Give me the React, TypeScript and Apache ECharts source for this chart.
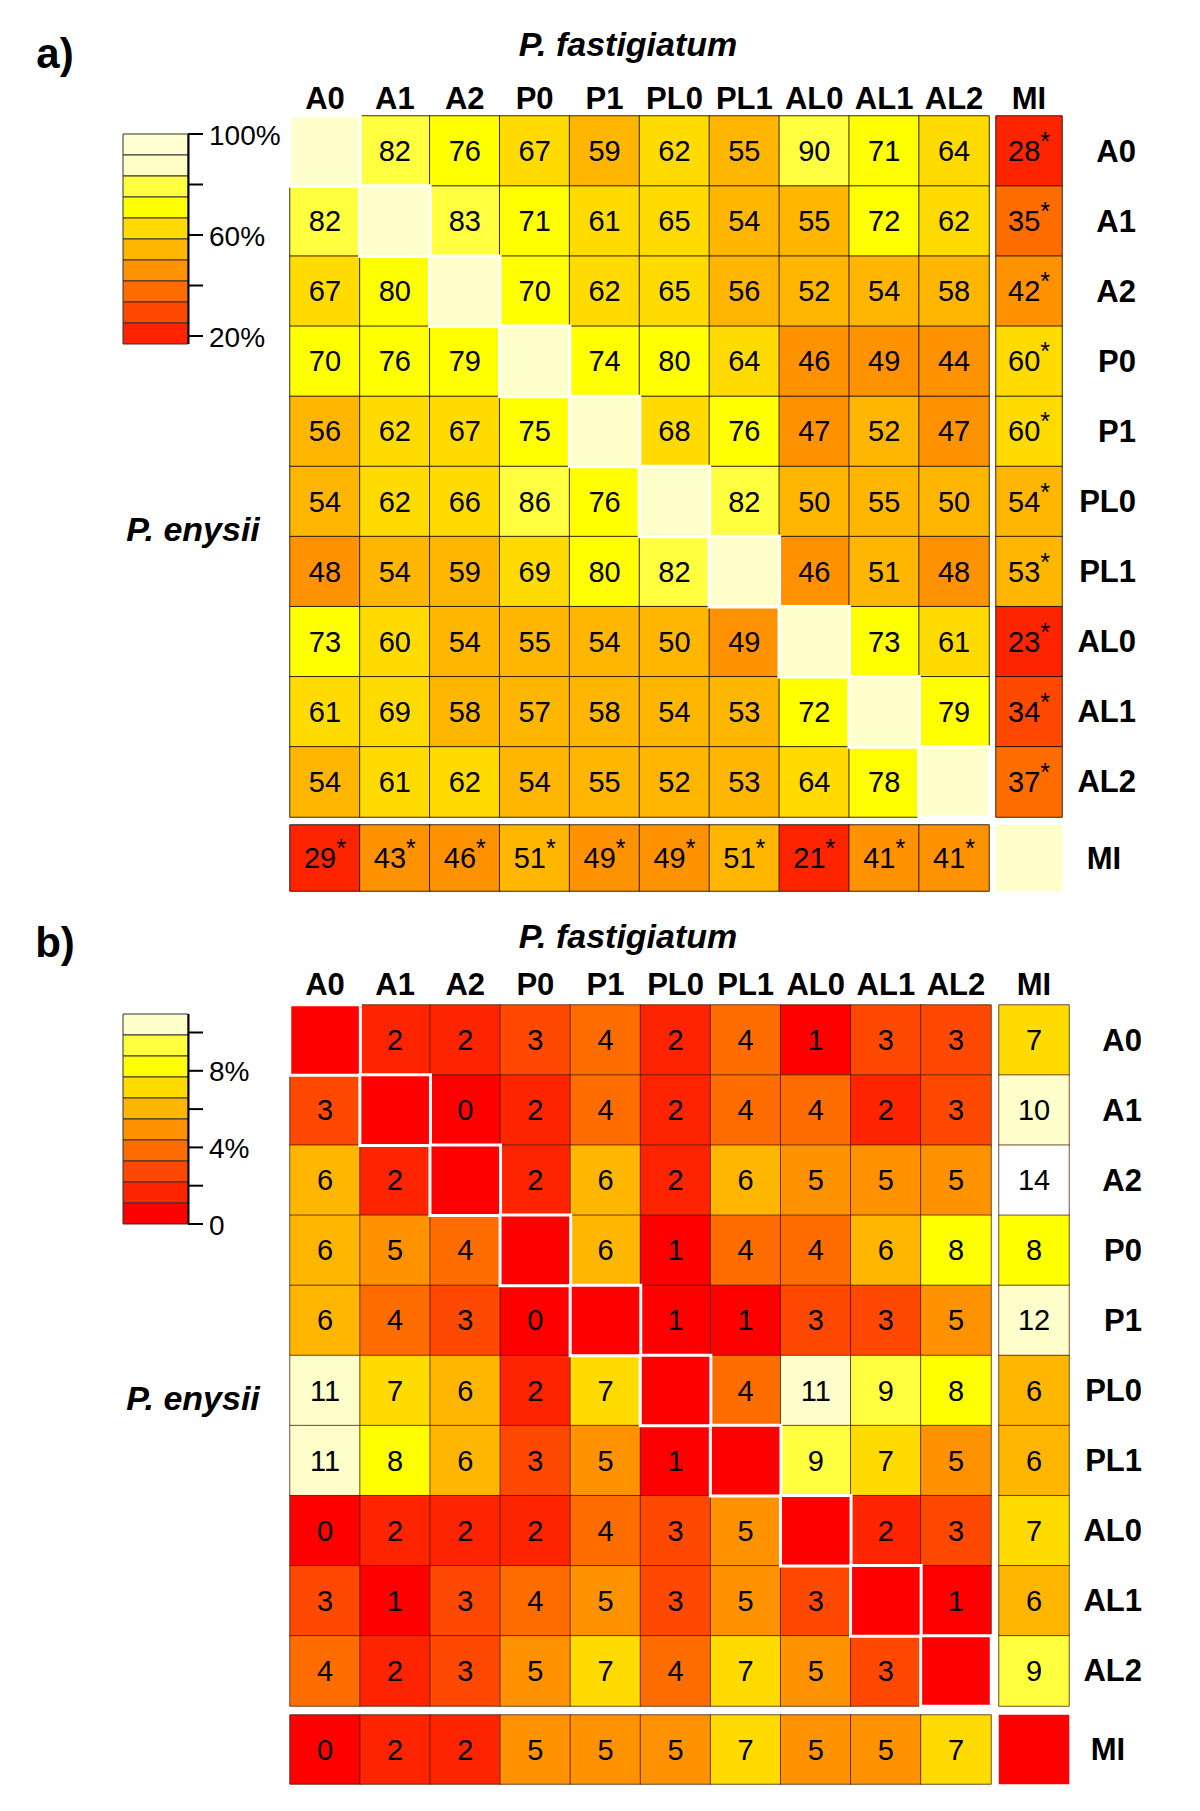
import React, { useEffect, useRef } from "react";
import * as echarts from "echarts";

// ---------- data ----------
const CATEGORIES = ["A0", "A1", "A2", "P0", "P1", "PL0", "PL1", "AL0", "AL1", "AL2"];
const MI_LABEL = ["MI"];

// panel a: similarity (%) — rows P. enysii, columns P. fastigiatum (null = diagonal)
const SIM_MATRIX: (number | null)[][] = [
  [null, 82, 76, 67, 59, 62, 55, 90, 71, 64],
  [82, null, 83, 71, 61, 65, 54, 55, 72, 62],
  [67, 80, null, 70, 62, 65, 56, 52, 54, 58],
  [70, 76, 79, null, 74, 80, 64, 46, 49, 44],
  [56, 62, 67, 75, null, 68, 76, 47, 52, 47],
  [54, 62, 66, 86, 76, null, 82, 50, 55, 50],
  [48, 54, 59, 69, 80, 82, null, 46, 51, 48],
  [73, 60, 54, 55, 54, 50, 49, null, 73, 61],
  [61, 69, 58, 57, 58, 54, 53, 72, null, 79],
  [54, 61, 62, 54, 55, 52, 53, 64, 78, null],
];
const SIM_MI_COL = [28, 35, 42, 60, 60, 54, 53, 23, 34, 37];
const SIM_MI_ROW = [29, 43, 46, 51, 49, 49, 51, 21, 41, 41];
const SIM_MI_COL_SIG = [true, true, true, true, true, true, true, true, true, true];
const SIM_MI_ROW_SIG = [true, true, true, true, true, true, true, true, true, true];
const SIM_SELF = 100;

// panel b: difference (%)
const DIFF_MATRIX: (number | null)[][] = [
  [null, 2, 2, 3, 4, 2, 4, 1, 3, 3],
  [3, null, 0, 2, 4, 2, 4, 4, 2, 3],
  [6, 2, null, 2, 6, 2, 6, 5, 5, 5],
  [6, 5, 4, null, 6, 1, 4, 4, 6, 8],
  [6, 4, 3, 0, null, 1, 1, 3, 3, 5],
  [11, 7, 6, 2, 7, null, 4, 11, 9, 8],
  [11, 8, 6, 3, 5, 1, null, 9, 7, 5],
  [0, 2, 2, 2, 4, 3, 5, null, 2, 3],
  [3, 1, 3, 4, 5, 3, 5, 3, null, 1],
  [4, 2, 3, 5, 7, 4, 7, 5, 3, null],
];
const DIFF_MI_COL = [7, 10, 14, 8, 12, 6, 6, 7, 6, 9];
const DIFF_MI_ROW = [0, 2, 2, 5, 5, 5, 7, 5, 5, 7];
const DIFF_SELF = 0;

// colour classes (upper bounds, inclusive) and palettes
const SIM_BOUNDS = [29.5, 34.5, 39.5, 49.5, 59.5, 69.5, 80.5, 99.5];
const SIM_PALETTE = ["#FF2400", "#FF4900", "#FF6D00", "#FF9200", "#FFB600", "#FFDB00", "#FFFF00", "#FFFF40", "#FFFFCC"];
const DIFF_BOUNDS = [1.5, 2.5, 3.5, 4.5, 5.5, 6.5, 7.5, 8.5, 9.5, 13.5];
const DIFF_PALETTE = ["#FF0000", "#FF2400", "#FF4900", "#FF6D00", "#FF9200", "#FFB600", "#FFDB00", "#FFFF00", "#FFFF40", "#FFFFCC", "#FFFFFF"];

// legends (top → bottom colours), tick labels
const LEGEND_A_COLORS = ["#FFFFD2", "#FFFFC6", "#FFFF40", "#FFFF00", "#FFDB00", "#FFB600", "#FF9200", "#FF6D00", "#FF4900", "#FF2400"];
const LEGEND_A_TICKS = ["100%", "", "60%", "", "20%"]; // top → bottom
const LEGEND_B_COLORS = ["#FFFFCC", "#FFFF40", "#FFFF00", "#FFDB00", "#FFB600", "#FF9200", "#FF6D00", "#FF4900", "#FF2400", "#FF0000"];
const LEGEND_B_TICKS = ["0", "", "4%", "", "8%", ""]; // bottom → top

const TITLE_X = "P. fastigiatum";
const TITLE_Y = "P. enysii";
const PANEL_LABELS = ["a)", "b)"];

// ---------- helpers ----------
const FONT = '"Liberation Sans", Arial, Helvetica, sans-serif';

function buildPieces(bounds: number[], palette: string[]) {
  const pieces: any[] = [];
  for (let i = 0; i <= bounds.length; i++) {
    const p: any = { color: palette[i] };
    if (i > 0) p.gt = bounds[i - 1];
    if (i < bounds.length) p.lte = bounds[i];
    pieces.push(p);
  }
  return pieces;
}

function matrixData(m: (number | null)[][]) {
  const out: any[] = [];
  m.forEach((row, r) => row.forEach((v, c) => { if (v !== null) out.push([c, r, v]); }));
  return out;
}
function diagData(m: (number | null)[][], self: number) {
  const out: any[] = [];
  m.forEach((row, r) => row.forEach((v, c) => { if (v === null) out.push([c, r, self]); }));
  return out;
}

const rich = {
  v: { fontSize: 29, color: "#000", fontFamily: FONT },
  s: { fontSize: 25, color: "#000", fontFamily: FONT, padding: [0, 0, 20, 0] },
};

function labelCfg(sig?: boolean[], byX?: boolean) {
  return {
    show: true,
    color: "#000",
    fontSize: 29,
    fontFamily: FONT,
    rich,
    formatter: (p: any) => {
      const v = p.value[2];
      const idx = byX ? p.value[0] : p.value[1];
      return sig && sig[idx] ? `{v|${v}}{s|*}` : `{v|${v}}`;
    },
  };
}

export default function App() {
  const ref = useRef<HTMLDivElement>(null);

  useEffect(() => {
    document.body.style.margin = "0";
    if (!ref.current) return;
    const chart = echarts.init(ref.current, undefined, { renderer: "svg" });

    // layout of the two panels
    const panels = [
      { top: 116, mainW: 699, mainH: 701, miX: 996, miW: 66, miRowY: 825, miRowH: 66, headMargin: 2, rowLabelMargin: 74, miLabelMargin: 42 },
      { top: 1005, mainW: 701, mainH: 701, miX: 999, miW: 70, miRowY: 1715, miRowH: 69, headMargin: 5, rowLabelMargin: 73, miLabelMargin: 39 },
    ];
    const LEFT = 290;

    const grids: any[] = [];
    const xAxes: any[] = [];
    const yAxes: any[] = [];
    const hidden = { show: false };
    const baseAxis = { axisLine: hidden, axisTick: hidden, splitLine: hidden, splitArea: hidden };
    const headLabel = (margin: number) => ({
      show: true, interval: 0, margin, fontSize: 31, fontWeight: "bold", color: "#000", fontFamily: FONT,
    });

    panels.forEach((p) => {
      // main, MI column, MI row, MI-MI
      grids.push({ left: LEFT, top: p.top, width: p.mainW, height: p.mainH });
      grids.push({ left: p.miX, top: p.top, width: p.miW, height: p.mainH });
      grids.push({ left: LEFT, top: p.miRowY, width: p.mainW, height: p.miRowH });
      grids.push({ left: p.miX, top: p.miRowY, width: p.miW, height: p.miRowH });
      const g0 = grids.length - 4;
      xAxes.push({ ...baseAxis, gridIndex: g0, type: "category", data: CATEGORIES, position: "top", axisLabel: headLabel(p.headMargin) });
      xAxes.push({ ...baseAxis, gridIndex: g0 + 1, type: "category", data: MI_LABEL, position: "top", axisLabel: headLabel(p.headMargin) });
      xAxes.push({ ...baseAxis, gridIndex: g0 + 2, type: "category", data: CATEGORIES, axisLabel: hidden });
      xAxes.push({ ...baseAxis, gridIndex: g0 + 3, type: "category", data: MI_LABEL, axisLabel: hidden });
      yAxes.push({ ...baseAxis, gridIndex: g0, type: "category", data: CATEGORIES, inverse: true, axisLabel: hidden });
      yAxes.push({
        ...baseAxis, gridIndex: g0 + 1, type: "category", data: CATEGORIES, inverse: true, position: "right",
        axisLabel: { ...headLabel(p.rowLabelMargin), align: "right" },
      });
      yAxes.push({ ...baseAxis, gridIndex: g0 + 2, type: "category", data: MI_LABEL, axisLabel: hidden });
      yAxes.push({
        ...baseAxis, gridIndex: g0 + 3, type: "category", data: MI_LABEL, position: "right",
        axisLabel: { ...headLabel(p.miLabelMargin), align: "center" },
      });
    });

    const cellBorderA = { borderColor: "rgba(20,10,0,0.85)", borderWidth: 1 };
    const cellBorderB = { borderColor: "rgba(70,25,0,0.75)", borderWidth: 1 };
    const diagBorder = { borderColor: "#FFFFFF", borderWidth: 3 };
    const noEmph = { disabled: true };

    const mkPanelSeries = (
      base: number, matrix: (number | null)[][], miCol: number[], miRow: number[], self: number,
      border: any, colSig?: boolean[], rowSig?: boolean[],
    ) => [
      { type: "heatmap", xAxisIndex: base, yAxisIndex: base, data: matrixData(matrix), label: labelCfg(), itemStyle: border, emphasis: noEmph },
      { type: "heatmap", xAxisIndex: base, yAxisIndex: base, data: diagData(matrix, self), label: { show: false }, itemStyle: diagBorder, emphasis: noEmph, z: 3 },
      { type: "heatmap", xAxisIndex: base + 1, yAxisIndex: base + 1, data: miCol.map((v, r) => [0, r, v]), label: labelCfg(colSig, false), itemStyle: border, emphasis: noEmph },
      { type: "heatmap", xAxisIndex: base + 2, yAxisIndex: base + 2, data: miRow.map((v, c) => [c, 0, v]), label: labelCfg(rowSig, true), itemStyle: border, emphasis: noEmph },
      { type: "heatmap", xAxisIndex: base + 3, yAxisIndex: base + 3, data: [[0, 0, self]], label: { show: false }, itemStyle: { borderWidth: 0 }, emphasis: noEmph },
    ];

    const series = [
      ...mkPanelSeries(0, SIM_MATRIX, SIM_MI_COL, SIM_MI_ROW, SIM_SELF, cellBorderA, SIM_MI_COL_SIG, SIM_MI_ROW_SIG),
      ...mkPanelSeries(4, DIFF_MATRIX, DIFF_MI_COL, DIFF_MI_ROW, DIFF_SELF, cellBorderB),
    ];

    // ---------- graphic: titles, panel letters, legends ----------
    const txt = (x: number, y: number, text: string, size: number, bold: boolean, italic: boolean, align = "center") => ({
      type: "text", x, y, z: 20,
      style: {
        text, fontSize: size, fontWeight: bold ? "bold" : "normal", fontStyle: italic ? "italic" : "normal",
        fontFamily: FONT, fill: "#000", align, verticalAlign: "middle", textAlign: align, textVerticalAlign: "middle",
      },
    });

    const graphic: any[] = [];
    graphic.push(txt(55, 53, PANEL_LABELS[0], 42, true, false));
    graphic.push(txt(55, 942, PANEL_LABELS[1], 42, true, false));
    graphic.push(txt(628, 44, TITLE_X, 34, true, true));
    graphic.push(txt(628, 936, TITLE_X, 34, true, true));
    graphic.push(txt(193, 529, TITLE_Y, 34, true, true));
    graphic.push(txt(193, 1398, TITLE_Y, 34, true, true));

    const legend = (x: number, y: number, colors: string[]) => {
      const bandH = 21;
      colors.forEach((c, i) => {
        graphic.push({
          type: "rect", z: 10,
          shape: { x, y: y + i * bandH, width: 65, height: bandH },
          style: { fill: c, stroke: "#333", lineWidth: 1 },
        });
      });
      graphic.push({ type: "line", z: 11, shape: { x1: x + 65.5, y1: y, x2: x + 65.5, y2: y + colors.length * bandH }, style: { stroke: "#000", lineWidth: 2 } });
      return y + colors.length * bandH;
    };
    // legend a
    const la = { x: 123, y: 134 };
    legend(la.x, la.y, LEGEND_A_COLORS);
    LEGEND_A_TICKS.forEach((t, i) => {
      const ty = la.y + i * 50.5;
      graphic.push({ type: "line", z: 11, shape: { x1: la.x + 65, y1: ty, x2: la.x + 80, y2: ty }, style: { stroke: "#000", lineWidth: 2 } });
      if (t) graphic.push(txt(la.x + 86, ty + 1, t, 28, false, false, "left"));
    });
    // legend b
    const lb = { x: 123, y: 1014 };
    const lbBottom = legend(lb.x, lb.y, LEGEND_B_COLORS);
    LEGEND_B_TICKS.forEach((t, i) => {
      const ty = lbBottom - i * 38.3;
      graphic.push({ type: "line", z: 11, shape: { x1: lb.x + 65, y1: ty, x2: lb.x + 80, y2: ty }, style: { stroke: "#000", lineWidth: 2 } });
      if (t) graphic.push(txt(lb.x + 86, ty + 1, t, 28, false, false, "left"));
    });

    chart.setOption({
      animation: false,
      backgroundColor: "#FFFFFF",
      textStyle: { fontFamily: FONT },
      grid: grids,
      xAxis: xAxes,
      yAxis: yAxes,
      visualMap: [
        { type: "piecewise", show: false, seriesIndex: [0, 1, 2, 3, 4], dimension: 2, pieces: buildPieces(SIM_BOUNDS, SIM_PALETTE) },
        { type: "piecewise", show: false, seriesIndex: [5, 6, 7, 8, 9], dimension: 2, pieces: buildPieces(DIFF_BOUNDS, DIFF_PALETTE) },
      ],
      series,
      graphic,
    });

    return () => chart.dispose();
  }, []);

  return <div ref={ref} style={{ width: 1200, height: 1811 }} />;
}
